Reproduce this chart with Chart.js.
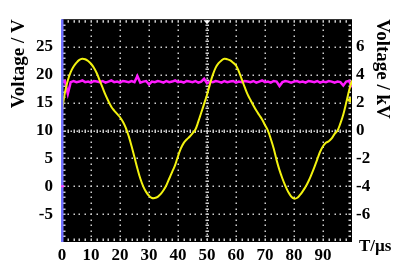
<!DOCTYPE html>
<html>
<head>
<meta charset="utf-8">
<script src="https://cdn.jsdelivr.net/npm/chart.js@4.4.0/dist/chart.umd.min.js"></script>
<style>
  html, body { margin: 0; padding: 0; background: #fff; }
  #wrap { width: 393px; height: 264px; }
</style>
</head>
<body>
<div id="wrap"><canvas id="scope" width="393" height="264"></canvas></div>
<script>
// ==========================================
// Oscilloscope capture: sine (kV, right axis) + DC level (V, left axis)
// ==========================================

// sample times, µs
const timeUs = [
    0, 1, 2, 3, 4, 5, 6, 7, 8, 9, 10, 11, 12, 13, 14, 15, 16, 17, 18, 19,
    20, 21, 22, 23, 24, 25, 26, 27, 28, 29, 30, 31, 32, 33, 34, 35, 36, 37, 38, 39,
    40, 41, 42, 43, 44, 45, 46, 47, 48, 49, 50, 51, 52, 53, 54, 55, 56, 57, 58, 59,
    60, 61, 62, 63, 64, 65, 66, 67, 68, 69, 70, 71, 72, 73, 74, 75, 76, 77, 78, 79,
    80, 81, 82, 83, 84, 85, 86, 87, 88, 89, 90, 91, 92, 93, 94, 95, 96, 97, 98, 99, 100
];

// yellow trace, kV
const sineKV = [
    1.44, 2.72, 3.60, 4.20, 4.60, 4.88, 5.08, 5.16, 5.12, 5.00,
    4.80, 4.52, 4.12, 3.60, 3.08, 2.56, 2.12, 1.72, 1.44, 1.20,
    0.96, 0.64, 0.20, -0.40, -1.12, -1.92, -2.72, -3.44, -4.00, -4.40,
    -4.68, -4.84, -4.84, -4.76, -4.56, -4.28, -3.92, -3.44, -2.96, -2.48,
    -1.84, -1.28, -0.88, -0.64, -0.44, -0.20, 0.08, 0.64, 1.28, 1.92,
    2.56, 3.32, 4.00, 4.52, 4.84, 5.04, 5.16, 5.12, 5.04, 4.88,
    4.68, 4.24, 3.68, 3.12, 2.60, 2.20, 1.80, 1.44, 1.12, 0.80,
    0.40, 0.00, -0.60, -1.28, -2.12, -2.84, -3.44, -3.96, -4.40, -4.72,
    -4.88, -4.84, -4.64, -4.36, -4.04, -3.64, -3.16, -2.64, -2.08, -1.52,
    -1.12, -0.88, -0.76, -0.56, -0.24, 0.00, 0.52, 1.16, 2.00, 2.88, 3.60
];

// magenta trace, V
const levelV = [
    18.6, 18.9, 16.6, 18.7, 18.9, 18.7, 18.8, 19.0, 18.7, 18.8,
    18.6, 18.9, 18.8, 18.7, 18.9, 18.6, 18.8, 19.0, 18.7, 18.8,
    18.6, 18.9, 18.8, 18.7, 18.9, 18.7, 19.8, 18.6, 18.8, 18.9,
    18.3, 18.8, 18.7, 18.9, 18.8, 18.6, 18.9, 18.7, 18.8, 19.0,
    18.7, 18.8, 18.6, 18.9, 18.8, 18.7, 18.9, 18.6, 18.8, 19.3,
    18.5, 18.8, 18.7, 18.9, 18.8, 18.6, 18.9, 18.7, 18.8, 18.9,
    18.6, 18.8, 18.7, 18.9, 18.8, 18.7, 18.9, 18.6, 18.8, 19.0,
    18.7, 18.8, 18.6, 18.9, 18.8, 18.0, 18.7, 18.9, 18.8, 18.6,
    18.8, 18.9, 18.7, 18.8, 18.6, 18.9, 18.8, 18.7, 18.9, 18.6,
    18.8, 18.7, 18.9, 18.8, 18.6, 18.8, 18.7, 18.1, 18.8, 18.9, 17.8
];

const xTicks = [0, 10, 20, 30, 40, 50, 60, 70, 80, 90];
const leftTicks = [-5, 0, 5, 10, 15, 20, 25];
const rightTicks = [-6, -4, -2, 0, 2, 4, 6];

// screen divisions (grid lines)
const xDivs = [10, 20, 30, 40, 60, 70, 80, 90];
const yDivs = [-5, 0, 5, 15, 20, 25];
const centerT = 50;
const centerV = 10;
const triggerT = 50;
const ch1MarkerV = 15.5;
const ch2GroundV = 0;

const serif = "'Liberation Serif', 'Times New Roman', serif";
const labelFont = { family: serif, size: 17, weight: 'bold' };
const titleFont = { family: serif, size: 19, weight: 'bold' };
const dotColor = '#cfcfcf';

const scopeScreen = {
    id: 'scopeScreen',
    beforeDatasetsDraw(chart) {
        const { ctx, chartArea: a, scales: { x, y } } = chart;
        ctx.save();
        ctx.fillStyle = '#000';
        ctx.fillRect(a.left, a.top, a.right - a.left, a.bottom - a.top);
        ctx.fillStyle = dotColor;

        // dotted horizontal lines
        yDivs.forEach(v => {
            const py = Math.round(y.getPixelForValue(v));
            for (let t = 2; t < 100; t += 2) {
                ctx.fillRect(Math.round(x.getPixelForValue(t)) - 0.5, py - 0.5, 1.5, 1.5);
            }
        });
        // dotted vertical lines
        xDivs.forEach(t => {
            const px = Math.round(x.getPixelForValue(t));
            for (let v = -9; v < 30; v += 1) {
                ctx.fillRect(px - 0.5, Math.round(y.getPixelForValue(v)) - 0.5, 1.5, 1.5);
            }
        });
        // centre cross, finer marks
        const cy = Math.round(y.getPixelForValue(centerV));
        for (let t = 1; t < 100; t += 1) {
            const px = Math.round(x.getPixelForValue(t));
            if (t % 2 === 0) ctx.fillRect(px - 0.5, cy - 1.5, 1.5, 3.5);
            else ctx.fillRect(px - 0.5, cy - 0.5, 1.5, 1.5);
        }
        const cx = Math.round(x.getPixelForValue(centerT));
        for (let v = -9.5; v < 30; v += 0.5) {
            const py = Math.round(y.getPixelForValue(v));
            if (Number.isInteger(v)) ctx.fillRect(cx - 1.5, py - 0.5, 3.5, 1.5);
            else ctx.fillRect(cx - 0.5, py - 0.5, 1.5, 1.5);
        }
        // edge ticks
        for (let t = 2; t < 100; t += 2) {
            const px = Math.round(x.getPixelForValue(t));
            ctx.fillRect(px - 0.5, a.top + 1, 1.5, 2.5);
            ctx.fillRect(px - 0.5, a.bottom - 3.5, 1.5, 2.5);
        }
        for (let v = -9; v < 30; v += 1) {
            const py = Math.round(y.getPixelForValue(v));
            ctx.fillRect(a.right - 3.5, py - 0.5, 2.5, 1.5);
            ctx.fillRect(a.left + 1, py - 0.5, 2.5, 1.5);
        }
        ctx.restore();
    },
    afterDatasetsDraw(chart) {
        const { ctx, chartArea: a, scales: { x, y } } = chart;
        ctx.save();
        // left edge of the screen
        ctx.fillStyle = '#6f6fff';
        ctx.fillRect(a.left - 1, a.top, 2.5, a.bottom - a.top);
        // ch2 ground marker
        ctx.fillStyle = '#ff40ff';
        ctx.fillRect(a.left - 1, y.getPixelForValue(ch2GroundV) - 1, 3, 2);
        // trigger position marker
        const tx = x.getPixelForValue(triggerT);
        ctx.fillStyle = '#ffffff';
        ctx.beginPath();
        ctx.moveTo(tx - 3.5, a.top + 1);
        ctx.lineTo(tx + 3.5, a.top + 1);
        ctx.lineTo(tx, a.top + 5);
        ctx.closePath();
        ctx.fill();
        // ch1 marker at right edge
        const my = y.getPixelForValue(ch1MarkerV);
        ctx.fillStyle = '#f2f20f';
        ctx.beginPath();
        ctx.moveTo(a.right - 6, my);
        ctx.lineTo(a.right - 1, my - 3);
        ctx.lineTo(a.right - 1, my + 3);
        ctx.closePath();
        ctx.fill();
        // time axis unit
        ctx.fillStyle = '#000';
        ctx.font = 'bold 17px ' + serif;
        ctx.textAlign = 'left';
        ctx.textBaseline = 'middle';
        ctx.fillText('T/\u00b5s', a.right + 7, a.bottom + 5);
        ctx.restore();
    }
};

const canvas = document.getElementById('scope');
new Chart(canvas.getContext('2d'), {
    type: 'line',
    data: {
        datasets: [{
            label: 'CH1',
            data: timeUs.map((t, i) => ({ x: t, y: sineKV[i] })),
            yAxisID: 'y2',
            borderColor: '#f2f20f',
            borderWidth: 2,
            pointRadius: 0,
            tension: 0.4,
            fill: false
        }, {
            label: 'CH2',
            data: timeUs.map((t, i) => ({ x: t, y: levelV[i] })),
            yAxisID: 'y',
            borderColor: '#ff1aff',
            borderWidth: 2.5,
            pointRadius: 0,
            tension: 0,
            fill: false
        }]
    },
    options: {
        responsive: false,
        animation: false,
        layout: { padding: { top: 11, left: 0, right: 0, bottom: 0 } },
        plugins: { legend: { display: false }, tooltip: { enabled: false } },
        scales: {
            x: {
                type: 'linear',
                min: 0,
                max: 100,
                grid: { display: false, drawTicks: false },
                border: { display: false },
                afterBuildTicks: s => { s.ticks = xTicks.map(v => ({ value: v })); },
                afterFit: s => { s.height = 22; },
                ticks: { padding: 3, color: '#000', font: labelFont, maxRotation: 0, autoSkip: false }
            },
            y: {
                position: 'left',
                min: -10,
                max: 30,
                grid: { display: false, drawTicks: false },
                border: { display: false },
                afterBuildTicks: s => { s.ticks = leftTicks.map(v => ({ value: v })); },
                afterFit: s => { s.width = 62; },
                ticks: { padding: 9, color: '#000', font: labelFont, autoSkip: false },
                title: { display: true, text: 'Voltage / V', align: 'end', color: '#000', font: titleFont, padding: { top: 8 } }
            },
            y2: {
                position: 'right',
                min: -8,
                max: 8,
                grid: { display: false, drawTicks: false },
                border: { display: false },
                afterBuildTicks: s => { s.ticks = rightTicks.map(v => ({ value: v })); },
                afterFit: s => { s.width = 41; },
                ticks: { padding: 4, color: '#000', font: labelFont, autoSkip: false },
                title: { display: true, text: 'Voltage / kV', align: 'end', color: '#000', font: titleFont, padding: { top: 0 } }
            }
        }
    },
    plugins: [scopeScreen]
});
</script>
</body>
</html>
